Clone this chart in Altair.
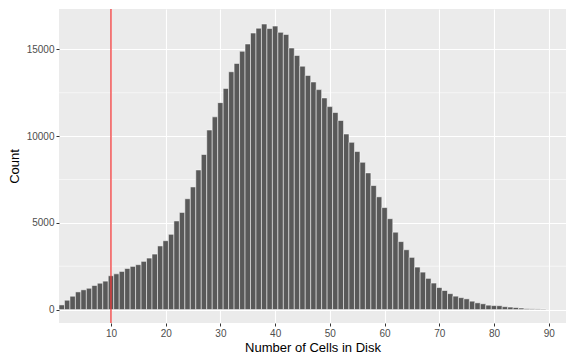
import altair as alt
import pandas as pd

# Histogram of disk cell counts (one bar per integer count)
cells = list(range(1, 90))
counts = [
    270, 540, 770, 1020, 1140, 1230, 1390, 1520, 1640, 1950,
    2060, 2200, 2370, 2490, 2590, 2780, 2970, 3200, 3670, 3970,
    4340, 5110, 5600, 6390, 7070, 8050, 8940, 10350, 11110, 11930,
    12750, 13710, 14190, 14890, 15310, 15940, 16220, 16460, 16200, 16340,
    15980, 15860, 15080, 14650, 14030, 13500, 13120, 12680, 12200, 11700,
    11360, 10900, 10120, 9640, 9110, 8490, 7880, 7150, 6500, 5880,
    5240, 4460, 3920, 3450, 3010, 2450, 2160, 1800, 1530, 1270,
    1100, 920, 775, 690, 620, 485, 390, 335, 255, 230,
    225, 170, 145, 120, 90, 55, 45, 40, 35,
]
x_breaks = [10, 20, 30, 40, 50, 60, 70, 80, 90]
y_breaks = [0, 5000, 10000, 15000]
y_minor = [2500, 7500, 12500]
cutoff = [10]

df = pd.DataFrame({"cells": cells, "count": counts})

xs = alt.Scale(domain=[0.5, 93.16], nice=False, zero=False)
ys = alt.Scale(domain=[-773, 17327], nice=False, zero=False)
x_axis = alt.Axis(values=x_breaks, title="Number of Cells in Disk", format="d")
y_axis = alt.Axis(values=y_breaks, title="Count", format="d")

# thin minor gridlines between the labelled y breaks
minor = (
    alt.Chart(pd.DataFrame({"y": y_minor}))
    .mark_rule(color="white", strokeWidth=0.55)
    .encode(y=alt.Y("y:Q", scale=ys, axis=y_axis))
)

bars = (
    alt.Chart(df)
    .transform_calculate(lo="datum.cells - 0.5", hi="datum.cells + 0.5")
    .mark_rect(fill="#595959", stroke="white", strokeWidth=0.5)
    .encode(
        x=alt.X("lo:Q", scale=xs, axis=x_axis),
        x2="hi:Q",
        y=alt.Y("count:Q", scale=ys, axis=y_axis),
        y2=alt.datum(0),
    )
)

vline = (
    alt.Chart(pd.DataFrame({"x": cutoff}))
    .mark_rule(color="#F03a3a", strokeWidth=1.3)
    .encode(x=alt.X("x:Q", scale=xs, axis=x_axis))
)

chart = (
    alt.layer(minor, bars, vline)
    .properties(
        width=507,
        height=314,
        autosize=alt.AutoSizeParams(type="none"),
        padding={"left": 59, "top": 9, "right": 0, "bottom": 33},
        background="white",
    )
    .configure_view(fill="#EBEBEB", stroke=None)
    .configure_axis(
        grid=True,
        gridColor="white",
        gridWidth=1.1,
        domain=False,
        tickColor="#333333",
        tickSize=3,
        tickWidth=1,
        labelColor="#4D4D4D",
        labelFont="Liberation Sans",
        labelFontSize=10,
        labelPadding=2,
        titleFont="Liberation Sans",
        titleFontSize=13,
        titleFontWeight="normal",
        titleColor="black",
    )
    .configure_axisX(titlePadding=3)
    .configure_axisY(titlePadding=5)
)

chart.save("out.html", embed_options={"renderer": "svg", "actions": False})
